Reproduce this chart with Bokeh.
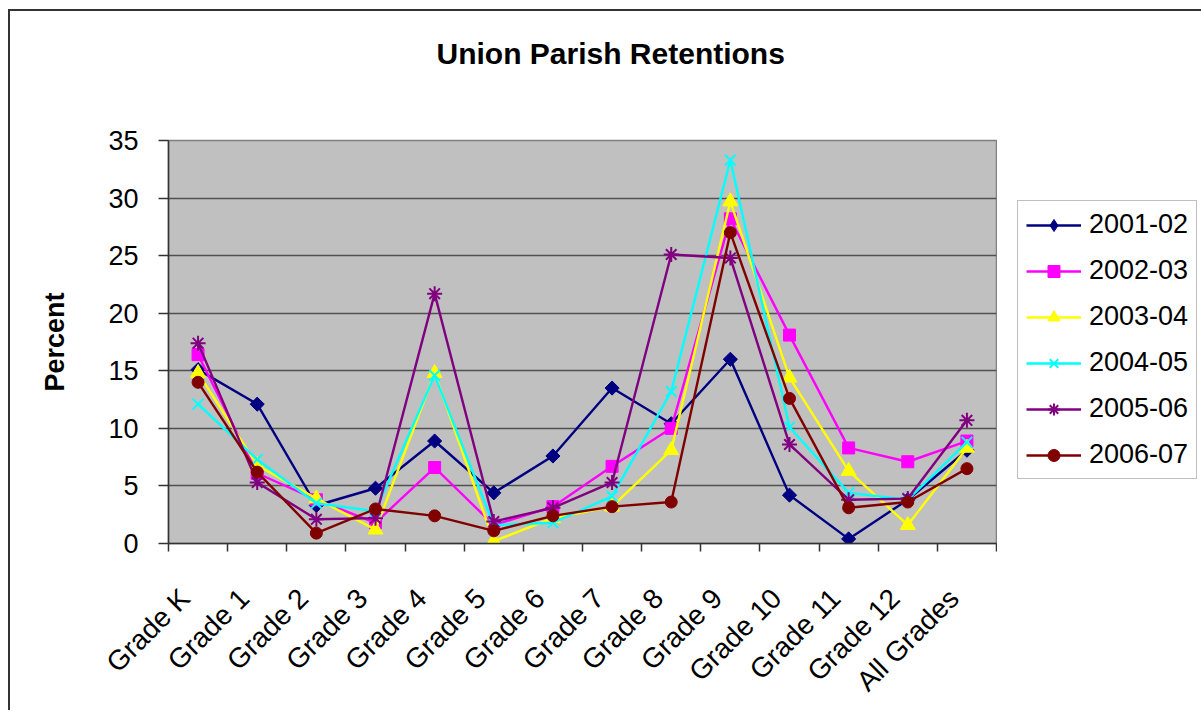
import math
from bokeh.plotting import figure
from bokeh.models import FixedTicker, Legend, LegendItem, Title
from bokeh.layouts import row
from bokeh.embed import file_html
from bokeh.resources import INLINE

categories = ["Grade K", "Grade 1", "Grade 2", "Grade 3", "Grade 4", "Grade 5", "Grade 6",
              "Grade 7", "Grade 8", "Grade 9", "Grade 10", "Grade 11", "Grade 12", "All Grades"]

s2001_02 = [15.1, 12.1, 3.3, 4.8, 8.9, 4.4, 7.6, 13.5, 10.4, 16.0, 4.2, 0.4, 3.8, 8.1]
s2002_03 = [16.4, 6.1, 3.8, 1.8, 6.6, 1.6, 3.2, 6.7, 10.0, 28.2, 18.1, 8.3, 7.1, 8.9]
s2003_04 = [14.8, 6.8, 3.9, 1.2, 14.8, 0.2, 2.2, 3.2, 8.1, 29.7, 14.4, 6.3, 1.6, 8.3]
s2004_05 = [12.1, 7.3, 3.5, 2.8, 14.6, 1.6, 1.8, 4.1, 13.2, 33.3, 10.1, 4.4, 3.8, 8.8]
s2005_06 = [17.4, 5.3, 2.1, 2.2, 21.7, 1.9, 3.1, 5.3, 25.1, 24.8, 8.6, 3.8, 3.9, 10.7]
s2006_07 = [14.0, 6.2, 0.9, 3.0, 2.4, 1.1, 2.4, 3.2, 3.6, 27.0, 12.6, 3.1, 3.6, 6.5]

series_names = ["2001-02", "2002-03", "2003-04", "2004-05", "2005-06", "2006-07"]
series_values = [s2001_02, s2002_03, s2003_04, s2004_05, s2005_06, s2006_07]
y_ticks = [0, 5, 10, 15, 20, 25, 30, 35]

colors = ["#000080", "#FF00FF", "#FFFF00", "#00FFFF", "#800080", "#800000"]
# markers in the plot area (diamond = square turned 45 degrees)
plot_markers = [dict(marker="square", angle=math.pi / 4, size=10),
                dict(marker="square", size=12),
                dict(marker="triangle", size=15),
                dict(marker="x", size=15),
                dict(marker="asterisk", size=15),
                dict(marker="circle", size=12)]
# markers used for the legend swatches
legend_markers = [dict(marker="diamond", size=17)] + plot_markers[1:]

FONT = "Liberation Sans"
H = 710
LABEL_SHIFT = 0.22  # rotated category labels sit slightly left of the category centre

xs = list(range(len(categories)))
label_pos = [x - LABEL_SHIFT for x in xs]

p = figure(width=997, height=H, output_backend="svg", toolbar_location=None, title=None,
           x_range=(-0.5, len(categories) - 0.5), y_range=(0, 35),
           min_border_left=168, min_border_right=1, min_border_top=140, min_border_bottom=166)

p.border_fill_color = None
p.background_fill_color = "#C0C0C0"
p.outline_line_color = "#808080"
p.outline_line_width = 1.5

# spacer between plot area and chart title, then the title itself
p.add_layout(Title(text=" ", text_font_size="2px", standoff=62), "above")
p.add_layout(Title(text="Union Parish Retentions", text_font=FONT, text_font_size="30px",
                   text_font_style="bold", text_color="black", align="left",
                   offset=268, standoff=10), "above")


def add_series(fig, xvals, yvals, col, mk):
    lr = fig.line(xvals, yvals, line_color=col, line_width=2.4)
    kw = dict(mk)
    if kw["marker"] in ("x", "asterisk"):
        sr = fig.scatter(xvals, yvals, line_color=col, line_width=2, fill_color=col, **kw)
    else:
        sr = fig.scatter(xvals, yvals, line_color=col, fill_color=col, line_width=1, **kw)
    return lr, sr


for vals, col, mk in zip(series_values, colors, plot_markers):
    add_series(p, xs, vals, col, mk)

# y axis
yax = p.yaxis[0]
yax.ticker = FixedTicker(ticks=y_ticks)
yax.axis_label = "Percent"
yax.axis_label_text_font = FONT
yax.axis_label_text_font_size = "27px"
yax.axis_label_text_font_style = "bold"
yax.axis_label_text_color = "black"
yax.axis_label_standoff = 35
yax.major_label_text_font = FONT
yax.major_label_text_font_size = "27px"
yax.major_label_text_color = "black"
yax.major_label_standoff = 20
yax.major_tick_out = 10
yax.major_tick_in = 0
yax.minor_tick_line_color = None
yax.axis_line_color = "#333333"
yax.axis_line_width = 1.5
yax.major_tick_line_color = "#333333"
yax.major_tick_line_width = 1.5

# x axis: labels on (invisible) major ticks, visible boundary ticks as minor ticks
xax = p.xaxis[0]
xax.ticker = FixedTicker(ticks=label_pos, minor_ticks=[i - 0.5 for i in range(len(categories) + 1)])
xax.major_label_overrides = {lp: c for lp, c in zip(label_pos, categories)}
xax.major_label_orientation = math.pi / 4
xax.major_label_text_font = FONT
xax.major_label_text_font_size = "28px"
xax.major_label_text_color = "black"
xax.major_label_standoff = 42
xax.major_tick_out = 0
xax.major_tick_in = 0
xax.major_tick_line_color = None
xax.minor_tick_out = 8
xax.minor_tick_in = 0
xax.minor_tick_line_color = "#333333"
xax.minor_tick_line_width = 1.5
xax.axis_line_color = "#333333"
xax.axis_line_width = 1.5

p.xgrid.visible = False
p.ygrid.grid_line_color = "#505050"
p.ygrid.grid_line_width = 1.5

# legend panel: second figure with the same series drawn outside its visible range,
# so only the legend shows
pl = figure(width=1201 - 997, height=H, output_backend="svg", toolbar_location=None,
            x_axis_location=None, y_axis_location=None, min_border=0, title=None,
            x_range=(-100, -99), y_range=(0, 35))
pl.border_fill_color = None
pl.background_fill_color = None
pl.outline_line_color = None
pl.grid.visible = False

items = []
for name, vals, col, mk in zip(series_names, series_values, colors, legend_markers):
    lr, sr = add_series(pl, xs, vals, col, mk)
    items.append(LegendItem(label=name, renderers=[lr, sr]))

legend = Legend(items=items, location=(20, 64))
legend.label_text_font = FONT
legend.label_text_font_size = "27px"
legend.label_text_color = "black"
legend.glyph_width = 55
legend.glyph_height = 30
legend.label_height = 30
legend.label_standoff = 8
legend.spacing = 15
legend.padding = 8
legend.margin = 0
legend.border_line_color = "#808080"
legend.border_line_width = 1.5
legend.background_fill_color = "white"
legend.background_fill_alpha = 1
pl.add_layout(legend)

layout = row(p, pl, spacing=0)
layout.styles = {"background": "linear-gradient(#333333,#333333) 8px 9px / 2px 100% no-repeat, "
                               "linear-gradient(#333333,#333333) 8px 9px / 100% 2px no-repeat, white"}

open("out.html", "w").write(file_html(layout, INLINE))
